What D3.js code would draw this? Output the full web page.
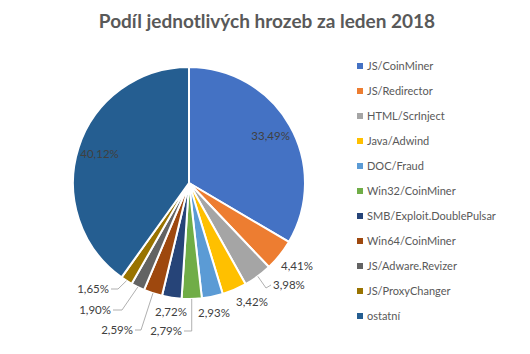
<!DOCTYPE html>
<html>
  <head>
    <meta charset="utf-8" />
    <script src="https://d3js.org/d3.v7.min.js"></script>
    <style>
      body { margin: 0; background: #fff; }
      svg { display: block; font-family: Lato, "Open Sans", sans-serif; }
    </style>
  </head>
  <body>
    <svg id="chart"></svg>
    <script>
      // data
      const threats = [
        "JS/CoinMiner", "JS/Redirector", "HTML/ScrInject", "Java/Adwind", "DOC/Fraud",
        "Win32/CoinMiner", "SMB/Exploit.DoublePulsar", "Win64/CoinMiner",
        "JS/Adware.Revizer", "JS/ProxyChanger", "ostatní"
      ];
      const shares = [33.49, 4.41, 3.98, 3.42, 2.93, 2.79, 2.72, 2.59, 1.90, 1.65, 40.12];
      const colors = [
        "#4472C4", "#ED7D31", "#A5A5A5", "#FFC000", "#5B9BD5", "#70AD47",
        "#264478", "#9E480E", "#636363", "#997300", "#255E91"
      ];

      const W = 530, H = 354;
      const cx = 189, cy = 183, R = 116;

      // label placement: "in" = inside slice, "out" = just outside, "lead" = with leader line
      // for out/lead: [dx, dy] of the label text relative to pie centre
      const labelLayout = [
        { mode: "in" },
        { mode: "out", at: [108, 83] },
        { mode: "lead", at: [84, 102], elbow: [77, 105], anchor: "start" },
        { mode: "out", at: [63, 119] },
        { mode: "out", at: [25, 130] },
        { mode: "lead", at: [-7, 148], elbow: [0, 148], anchor: "end", vertical: true },
        { mode: "out", at: [-18, 129] },
        { mode: "lead", at: [-56, 147], elbow: [-48, 147], anchor: "end" },
        { mode: "lead", at: [-78, 127], elbow: [-67, 127], anchor: "end" },
        { mode: "lead", at: [-80, 106], elbow: [-71, 106], anchor: "end" },
        { mode: "in" }
      ];

      const svg = d3.select("#chart").attr("width", W).attr("height", H);

      svg.append("text")
        .attr("x", 267)
        .attr("y", 28)
        .attr("text-anchor", "middle")
        .attr("font-size", 19)
        .attr("font-weight", "bold")
        .attr("fill", "#595959")
        .text("Podíl jednotlivých hrozeb za leden 2018");

      const pie = d3.pie().sort(null).value(d => d)(shares);
      const arc = d3.arc().innerRadius(0).outerRadius(R);

      const g = svg.append("g").attr("transform", `translate(${cx},${cy})`);

      g.selectAll("path.slice")
        .data(pie)
        .join("path")
        .attr("class", "slice")
        .attr("d", arc)
        .attr("fill", (d, i) => colors[i])
        .attr("stroke", "#fff")
        .attr("stroke-width", 2)
        .attr("stroke-linejoin", "round");

      const fmt = v => v.toFixed(2).replace(".", ",") + "%";
      const edge = d => {
        const a = (d.startAngle + d.endAngle) / 2;
        return [R * Math.sin(a), -R * Math.cos(a)];
      };

      pie.forEach((d, i) => {
        const L = labelLayout[i];
        let x, y, anchor = "middle";
        if (L.mode === "in") {
          const a = (d.startAngle + d.endAngle) / 2;
          x = 0.81 * R * Math.sin(a);
          y = -0.81 * R * Math.cos(a);
        } else {
          [x, y] = L.at;
          if (L.mode === "lead") {
            anchor = L.anchor;
            const e = edge(d);
            const elbow = L.vertical ? [e[0], L.elbow[1]] : L.elbow;
            const tip = anchor === "start" ? [x - 2, y] : [x + 2, y];
            g.append("polyline")
              .attr("points", [e, elbow, tip].map(p => p.join(",")).join(" "))
              .attr("fill", "none")
              .attr("stroke", "#A6A6A6")
              .attr("stroke-width", 0.9);
          }
        }
        g.append("text")
          .attr("x", x)
          .attr("y", y)
          .attr("dy", "0.35em")
          .attr("text-anchor", anchor)
          .attr("font-size", 11.5)
          .attr("fill", "#404040")
          .text(fmt(shares[i]));
      });

      // legend
      const legend = svg.append("g").attr("transform", "translate(357,66)");
      const rows = legend.selectAll("g")
        .data(threats)
        .join("g")
        .attr("transform", (d, i) => `translate(0,${i * 25})`);
      rows.append("rect")
        .attr("x", 0).attr("y", -3)
        .attr("width", 6).attr("height", 6)
        .attr("fill", (d, i) => colors[i]);
      rows.append("text")
        .attr("x", 10)
        .attr("dy", "0.35em")
        .attr("font-size", 11)
        .attr("fill", "#595959")
        .text(d => d);
    </script>
  </body>
</html>
